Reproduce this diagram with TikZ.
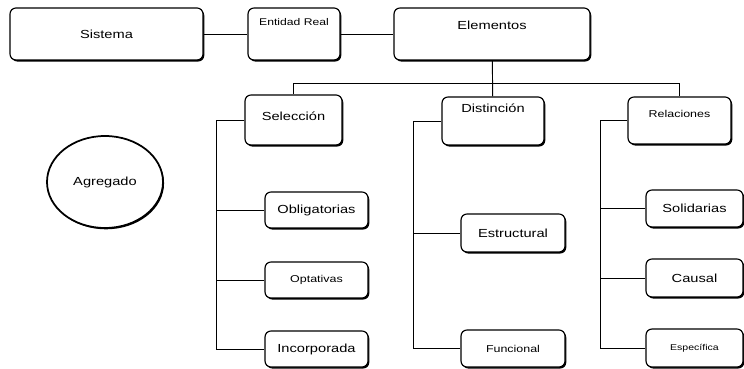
\documentclass[tikz,border=0pt]{standalone}
\usepackage{fontspec}
\setmainfont{Liberation Sans}[FakeStretch=1.25]
\usetikzlibrary{shadows,shapes.geometric}

\begin{document}
\begin{tikzpicture}[x=0.3mm,y=-0.3mm,line width=0.8pt,
  caja/.style={draw,line width=1pt,rounded corners=1.8mm,fill=white,inner sep=0pt,
    drop shadow={shadow xshift=1.1pt,shadow yshift=-1.3pt,fill=black,opacity=1},
    font=\fontsize{10}{12}\selectfont},
  chica/.style={font=\fontsize{8.5}{10}\selectfont},
  mini/.style={font=\fontsize{7.2}{9}\selectfont},
  arriba/.style={text depth=#1}]
  \useasboundingbox (0,0) rectangle (744,369);
  % fila superior
  \node[caja,minimum width=57.9mm,minimum height=15.6mm] (sistema) at (106.5,34) {Sistema};
  \node[caja,font=\fontsize{8.3}{10}\selectfont,arriba=7.2mm,minimum width=27.6mm,minimum height=15.6mm] (entidad) at (294,34) {Entidad Real};
  \node[caja,arriba=5.4mm,minimum width=58.8mm,minimum height=15.6mm] (elementos) at (492,34) {Elementos};
  % segundo nivel
  \node[caja,arriba=2.4mm,minimum width=29.1mm,minimum height=15mm] (seleccion) at (293.5,120) {Selección};
  \node[caja,arriba=7.8mm,minimum width=30.6mm,minimum height=14.4mm] (distincion) at (493,121) {Distinción};
  \node[caja,chica,arriba=4.2mm,minimum width=30.9mm,minimum height=14.1mm] (relaciones) at (679.5,120.5) {Relaciones};
  % hojas
  \node[caja,minimum width=30.9mm,minimum height=10.8mm] (oblig) at (316.5,210) {Obligatorias};
  \node[caja,chica,minimum width=30.9mm,minimum height=10.8mm] (optat) at (316.5,280) {Optativas};
  \node[caja,minimum width=30.9mm,minimum height=10.8mm] (incorp) at (316.5,349) {Incorporada};
  \node[caja,minimum width=31.2mm,minimum height=11.4mm] (estruct) at (513,233) {Estructural};
  \node[caja,chica,minimum width=31.2mm,minimum height=11.1mm] (funcional) at (513,348.5) {Funcional};
  \node[caja,minimum width=29.1mm,minimum height=11.1mm] (solid) at (694.5,208.5) {Solidarias};
  \node[caja,minimum width=29.1mm,minimum height=11.4mm] (causal) at (694.5,278) {Causal};
  \node[caja,mini,minimum width=29.1mm,minimum height=11.4mm] (especif) at (694.5,348) {Específica};
  \node[ellipse,draw,line width=1.5pt,fill=white,inner sep=0pt,
    drop shadow={shadow xshift=0.9pt,shadow yshift=-1.1pt,fill=black,opacity=1},
    minimum width=34.8mm,minimum height=27.6mm,font=\fontsize{10}{12}\selectfont] (agregado) at (105,182) {Agregado};
  % conexiones
  \coordinate (bus) at (0,83);
  \coordinate (tsel) at (216,0);
  \coordinate (tdis) at (413,0);
  \coordinate (trel) at (600,0);
  \draw (sistema) -- (entidad);
  \draw (entidad) -- (elementos);
  \draw (elementos) -- (distincion);
  \draw (seleccion.north) |- (bus -| relaciones) -- (relaciones.north);
  \draw (seleccion.west) -| (tsel |- incorp) -- (incorp.west);
  \foreach \n in {oblig,optat} \draw (tsel |- \n) -- (\n.west);
  \draw (distincion.west) -| (tdis |- funcional) -- (funcional.west);
  \draw (tdis |- estruct) -- (estruct.west);
  \draw (relaciones.west) -| (trel |- especif) -- (especif.west);
  \foreach \n in {solid,causal} \draw (trel |- \n) -- (\n.west);
\end{tikzpicture}
\end{document}
